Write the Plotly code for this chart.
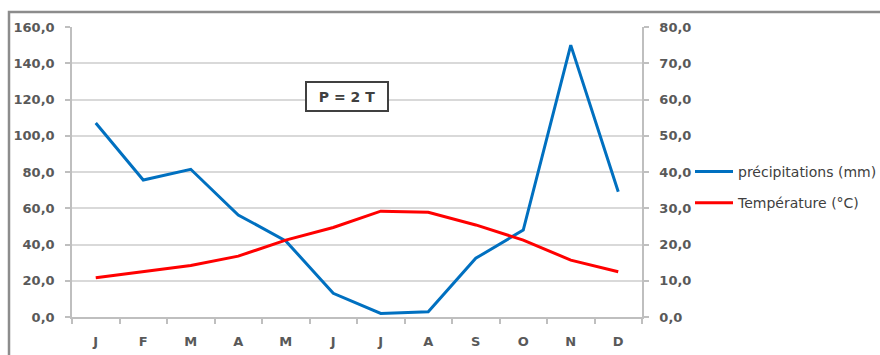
import plotly.graph_objects as go

# Monthly climate data
months = ["J", "F", "M", "A", "M", "J", "J", "A", "S", "O", "N", "D"]
precipitations = [107.0, 75.6, 81.5, 56.3, 42.0, 13.1, 2.0, 2.9, 32.4, 48.0, 150.0, 69.1]
temperature = [10.8, 12.5, 14.2, 16.8, 21.2, 24.7, 29.2, 28.9, 25.4, 21.2, 15.7, 12.5]

left_ticks = [0, 20, 40, 60, 80, 100, 120, 140, 160]
right_ticks = [0, 10, 20, 30, 40, 50, 60, 70, 80]

x_idx = list(range(len(months)))

W, H = 880, 355
L, R, T, B = 72, 238, 27, 38
pw, ph = W - L - R, H - T - B

def px_x(px):
    return (px - L) / pw

def px_y(py):
    return (H - B - py) / ph

font_family = "DejaVu Sans, sans-serif"
text_color = "#595959"
axis_color = "#bfbfbf"
grid_color = "#d9d9d9"
tick_font = dict(family=font_family, size=13, color=text_color, weight="bold")

fig = go.Figure()
fig.add_trace(go.Scatter(
    x=x_idx, y=precipitations, mode="lines", name="précipitations (mm)",
    line=dict(color="#0070C0", width=3), legendgroup="p",
))
fig.add_trace(go.Scatter(
    x=x_idx, y=temperature, mode="lines", name="Température (°C)",
    line=dict(color="#FF0000", width=3), yaxis="y2", legendgroup="t",
))

fig.update_layout(
    width=W, height=H,
    margin=dict(l=L, r=R, t=T, b=B, autoexpand=False),
    paper_bgcolor="white", plot_bgcolor="white",
    separators=", ",
    font=dict(family=font_family, size=13, color=text_color),
    showlegend=True,
    legend=dict(
        x=px_x(690), y=px_y(156), xanchor="left", yanchor="top",
        bgcolor="rgba(0,0,0,0)", borderwidth=0,
        font=dict(family=font_family, size=14, color="#404040"),
        traceorder="grouped", tracegroupgap=10,
        itemwidth=38,
    ),
    xaxis=dict(
        range=[-0.5, 11.5], tickmode="array", tickvals=x_idx, ticktext=months,
        ticks="", showgrid=False, zeroline=False,
        showline=True, linecolor=axis_color, linewidth=1.5,
        ticklabelstandoff=12,
        tickfont=tick_font,
        minor=dict(tickmode="linear", tick0=-0.5, dtick=1, ticks="outside",
                   ticklen=5, tickcolor=axis_color, tickwidth=1.5, showgrid=False),
    ),
    yaxis=dict(
        range=[0, 160], tickmode="array", tickvals=left_ticks, tickformat=".1f",
        ticks="outside", ticklen=5, tickcolor=axis_color, tickwidth=1.5,
        showgrid=True, gridcolor=grid_color, gridwidth=1.5, zeroline=False,
        showline=True, linecolor=axis_color, linewidth=1.5,
        ticklabelstandoff=8, tickfont=tick_font,
    ),
    yaxis2=dict(
        range=[0, 80], tickmode="array", tickvals=right_ticks, tickformat=".1f",
        overlaying="y", side="right",
        ticks="outside", ticklen=5, tickcolor=axis_color, tickwidth=1.5,
        showgrid=False, zeroline=False,
        showline=True, linecolor=axis_color, linewidth=1.5,
        ticklabelstandoff=8, tickfont=tick_font,
    ),
    shapes=[
        # chart frame (left and top edges visible)
        dict(type="rect", xref="paper", yref="paper",
             x0=px_x(9), x1=px_x(900), y0=px_y(380), y1=px_y(12),
             line=dict(color="#8c8c8c", width=2.5), fillcolor="rgba(0,0,0,0)",
             layer="above"),
    ],
    annotations=[
        dict(text="P = 2 T", xref="paper", yref="paper",
             x=px_x(347), y=px_y(80.5), showarrow=False,
             font=dict(family=font_family, size=14, color="#404040", weight="bold"),
             bordercolor="#404040", borderwidth=2, borderpad=0,
             bgcolor="white", width=80, height=27),
    ],
)

fig.write_html("out.html")
